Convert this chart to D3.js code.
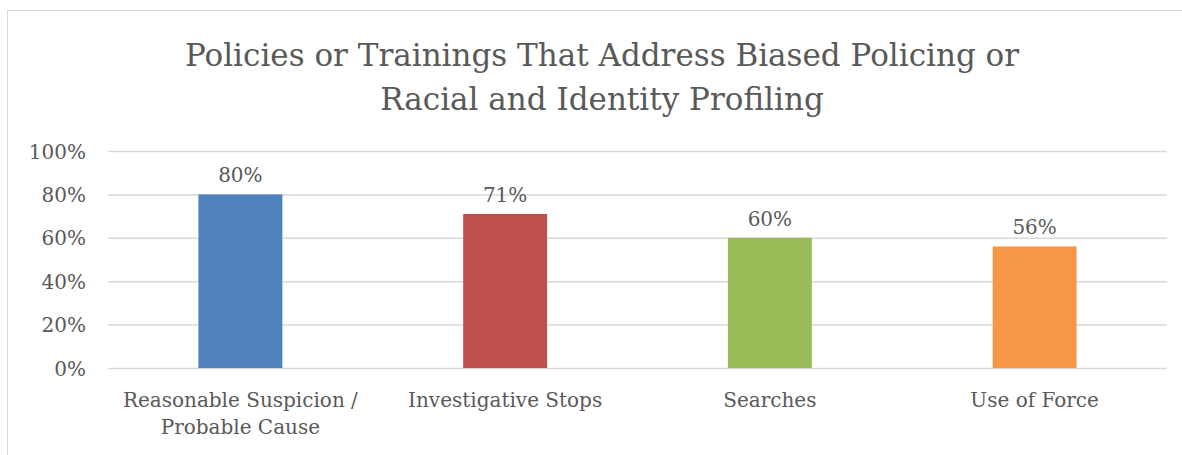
<!DOCTYPE html>
<html>
<head>
<meta charset="utf-8">
<script src="https://cdn.jsdelivr.net/npm/d3@7"></script>
<style>
  html, body { margin: 0; padding: 0; background: #fff; }
  svg { display: block; }
</style>
</head>
<body>
<svg id="chart" width="1182" height="455"></svg>
<script>
const titleLines = ["Policies or Trainings That Address Biased Policing or", "Racial and Identity Profiling"];
const categories = ["Reasonable Suspicion / Probable Cause", "Investigative Stops", "Searches", "Use of Force"];
const categoryLines = [["Reasonable Suspicion /", "Probable Cause"], ["Investigative Stops"], ["Searches"], ["Use of Force"]];
const values = [0.80, 0.71, 0.60, 0.56];
const valueLabels = ["80%", "71%", "60%", "56%"];
const colors = ["#4f81bd", "#c0504d", "#9bbb59", "#f79646"];
const yTicks = [0, 0.2, 0.4, 0.6, 0.8, 1.0];

const FONT = "'DejaVu Serif', 'Liberation Serif', serif";
const TEXT = "#595959";

const svg = d3.select("#chart");

// chart border
svg.append("rect")
  .attr("x", 7.5).attr("y", 10.5)
  .attr("width", 1180).attr("height", 460)
  .attr("fill", "#fff").attr("stroke", "#d9d9d9").attr("stroke-width", 1);

const plot = { left: 108, right: 1167, top: 151, bottom: 368 };

const x = d3.scaleBand()
  .domain(categories)
  .range([plot.left, plot.right])
  .paddingInner(0.683)
  .paddingOuter(0.683 / 2);

const y = d3.scaleLinear().domain([0, 1]).range([plot.bottom, plot.top]);

// gridlines
const yAxis = d3.axisLeft(y)
  .tickValues(yTicks)
  .tickFormat(d3.format(".0%"))
  .tickSize(-(plot.right - plot.left))
  .tickPadding(22);

const gy = svg.append("g")
  .attr("transform", `translate(${plot.left},0)`)
  .call(yAxis);
gy.select(".domain").remove();
gy.selectAll(".tick line").attr("stroke", "#d9d9d9").attr("stroke-width", 1.5);
gy.selectAll(".tick text")
  .attr("fill", TEXT)
  .style("font-family", FONT)
  .style("font-size", "20px")
  .attr("dy", "0.35em");

// bars
svg.append("g").selectAll("rect")
  .data(categories)
  .join("rect")
  .attr("x", d => x(d))
  .attr("width", x.bandwidth())
  .attr("y", (d, i) => y(values[i]))
  .attr("height", (d, i) => y(0) - y(values[i]))
  .attr("fill", (d, i) => colors[i]);

// value labels
svg.append("g").selectAll("text")
  .data(categories)
  .join("text")
  .attr("x", d => x(d) + x.bandwidth() / 2)
  .attr("y", (d, i) => y(values[i]) - 12)
  .attr("text-anchor", "middle")
  .attr("fill", TEXT)
  .style("font-family", FONT)
  .style("font-size", "20px")
  .text((d, i) => valueLabels[i]);

// category labels
const cat = svg.append("g").selectAll("text")
  .data(categories)
  .join("text")
  .attr("x", d => x(d) + x.bandwidth() / 2)
  .attr("y", plot.bottom + 39)
  .attr("text-anchor", "middle")
  .attr("fill", TEXT)
  .style("font-family", FONT)
  .style("font-size", "20px");
cat.each(function(d, i) {
  const t = d3.select(this);
  categoryLines[i].forEach((line, j) => {
    t.append("tspan")
      .attr("x", x(d) + x.bandwidth() / 2)
      .attr("dy", j === 0 ? 0 : 27)
      .text(line);
  });
});

// title
const title = svg.append("text")
  .attr("text-anchor", "middle")
  .attr("fill", TEXT)
  .style("font-family", FONT)
  .style("font-size", "31px");
titleLines.forEach((line, j) => {
  title.append("tspan")
    .attr("x", 602)
    .attr("y", 66 + j * 44)
    .text(line);
});
</script>
</body>
</html>
